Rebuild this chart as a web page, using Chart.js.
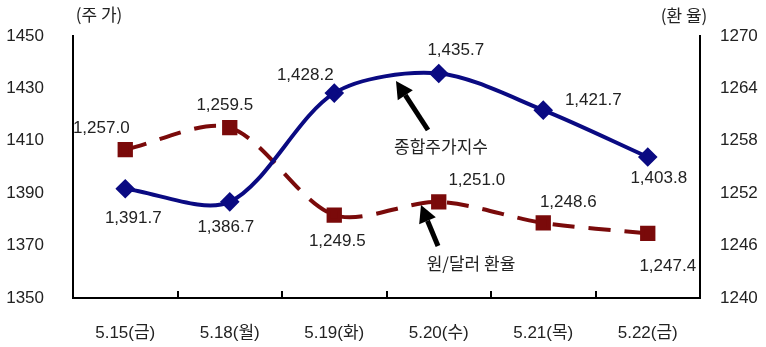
<!DOCTYPE html>
<html>
<head>
<meta charset="utf-8">
<script src="https://cdn.jsdelivr.net/npm/chart.js@4"></script>
<style>
  body { margin: 0; background: #fff; }
  #wrap { width: 766px; height: 347px; }
</style>
</head>
<body>
<div id="wrap"><canvas id="c"></canvas></div>
<script>
// data
const days = ['5.15(금)', '5.18(월)', '5.19(화)', '5.20(수)', '5.21(목)', '5.22(금)'];
const kospi = [1391.7, 1386.7, 1428.2, 1435.7, 1421.7, 1403.8];
const usdKrw = [1257.0, 1259.5, 1249.5, 1251.0, 1248.6, 1247.4];
const leftTicks = [1350, 1370, 1390, 1410, 1430, 1450];
const rightTicks = [1240, 1246, 1252, 1258, 1264, 1270];

const FONT = '"Liberation Sans", "Noto Sans CJK KR", sans-serif';
const fmt = v => v.toLocaleString('en-US', { minimumFractionDigits: 1, maximumFractionDigits: 1 });

// label offsets from each point (dx, dy), in px
const kospiLabelPos = [[8, 30], [-4, 25], [-29, -18], [17, -23], [50, -10], [11, 21]];
const fxLabelPos = [[-24, -21], [-5, -22], [3, 26], [38, -22], [25, -21], [20, 33]];

const extras = {
    id: 'extras',
    afterDraw(chart) {
        const ctx = chart.ctx;
        const x = chart.scales.x, yl = chart.scales.y, yr = chart.scales.y1;
        const area = chart.chartArea;
        ctx.save();

        // inward tick marks on the category axis
        ctx.strokeStyle = '#000';
        ctx.lineWidth = 2;
        for (let i = 0; i < days.length - 1; i++) {
            const px = Math.round((x.getPixelForValue(i) + x.getPixelForValue(i + 1)) / 2);
            ctx.beginPath();
            ctx.moveTo(px, area.bottom);
            ctx.lineTo(px, area.bottom - 7);
            ctx.stroke();
        }

        // value labels
        ctx.fillStyle = '#222';
        ctx.font = '17px ' + FONT;
        ctx.textAlign = 'center';
        ctx.textBaseline = 'middle';
        kospi.forEach((v, i) => {
            const [dx, dy] = kospiLabelPos[i];
            ctx.fillText(fmt(v), x.getPixelForValue(i) + dx, yl.getPixelForValue(v) + dy);
        });
        usdKrw.forEach((v, i) => {
            const [dx, dy] = fxLabelPos[i];
            ctx.fillText(fmt(v), x.getPixelForValue(i) + dx, yr.getPixelForValue(v) + dy);
        });

        // axis titles
        ctx.font = '17px "Noto Sans CJK KR", sans-serif';
        ctx.fillText('(주 가)', 99, 15);
        ctx.fillText('(환 율)', 684, 16);

        // series callouts with arrows
        ctx.fillText('종합주가지수', 441, 147);
        ctx.fillText('원/달러 환율', 471, 264);
        arrow(ctx, 428, 130, 396, 81);
        arrow(ctx, 438, 246, 421, 205);

        ctx.restore();
    }
};

function arrow(ctx, x1, y1, x2, y2) {
    const a = Math.atan2(y2 - y1, x2 - x1);
    const head = 17, wide = 9;
    const bx = x2 - head * Math.cos(a), by = y2 - head * Math.sin(a);
    ctx.strokeStyle = '#000';
    ctx.fillStyle = '#000';
    ctx.lineWidth = 5;
    ctx.beginPath();
    ctx.moveTo(x1, y1);
    ctx.lineTo(bx, by);
    ctx.stroke();
    ctx.beginPath();
    ctx.moveTo(x2, y2);
    ctx.lineTo(bx + wide * Math.sin(a), by - wide * Math.cos(a));
    ctx.lineTo(bx - wide * Math.sin(a), by + wide * Math.cos(a));
    ctx.closePath();
    ctx.fill();
    ctx.fillStyle = '#222';
}

new Chart(document.getElementById('c'), {
    type: 'line',
    data: {
        labels: days,
        datasets: [
            {
                label: '종합주가지수',
                data: kospi,
                yAxisID: 'y',
                borderColor: '#0a0a82',
                backgroundColor: '#0a0a82',
                borderWidth: 4,
                tension: 0.3,
                pointStyle: 'rectRot',
                pointRadius: 7,
                pointHoverRadius: 7
            },
            {
                label: '원/달러 환율',
                data: usdKrw,
                yAxisID: 'y1',
                borderColor: '#7a0a0a',
                backgroundColor: '#7a0a0a',
                borderWidth: 4,
                borderDash: [22, 14],
                tension: 0.3,
                pointStyle: 'rect',
                pointRadius: 8,
                pointHoverRadius: 8
            }
        ]
    },
    options: {
        responsive: true,
        maintainAspectRatio: false,
        animation: false,
        layout: { padding: { top: 36, left: 0, right: 0, bottom: 0 } },
        plugins: { legend: { display: false }, tooltip: { enabled: false } },
        scales: {
            x: {
                offset: true,
                grid: { display: false },
                border: { color: '#000', width: 2 },
                ticks: { color: '#222', font: { size: 17, family: FONT }, padding: 17 },
                afterFit: s => { s.height = 49; }
            },
            y: {
                position: 'left',
                min: 1350, max: 1450,
                afterBuildTicks: s => { s.ticks = leftTicks.map(v => ({ value: v })); },
                grid: { display: false },
                border: { color: '#000', width: 2 },
                ticks: { color: '#222', font: { size: 17, family: FONT }, padding: 21, callback: v => String(v) },
                afterFit: s => { s.width = 73; }
            },
            y1: {
                position: 'right',
                min: 1240, max: 1270,
                afterBuildTicks: s => { s.ticks = rightTicks.map(v => ({ value: v })); },
                grid: { display: false },
                border: { color: '#000', width: 2 },
                ticks: { color: '#222', font: { size: 17, family: FONT }, padding: 12, callback: v => String(v) },
                afterFit: s => { s.width = 66; }
            }
        }
    },
    plugins: [extras]
});
</script>
</body>
</html>
